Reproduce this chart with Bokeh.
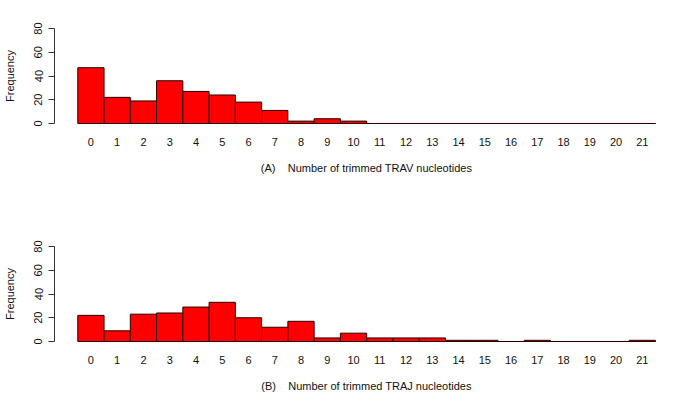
from bokeh.plotting import figure
from bokeh.layouts import column
from bokeh.models import Range1d, FixedTicker, ColumnDataSource
from bokeh.embed import file_html
from bokeh.resources import INLINE

categories = list(range(22))
tick_labels = [str(c) for c in categories]
trav_counts = [47, 22, 19, 36, 27, 24, 18, 11, 2, 4, 2, 0, 0, 0, 0, 0, 0, 0, 0, 0, 0, 0]
traj_counts = [22, 9, 23, 24, 29, 33, 20, 12, 17, 3, 7, 3, 3, 3, 1, 1, 0, 1, 0, 0, 0, 1]
y_ticks = [0, 20, 40, 60, 80]
NB = "\u00a0"
titles = ["(A)" + NB * 3 + " Number of trimmed TRAV nucleotides",
          "(B)" + NB * 3 + " Number of trimmed TRAJ nucleotides"]

FONT = "Liberation Sans"


def panel(counts, title, height, top, bottom):
    p = figure(width=685, height=height, output_backend="svg", toolbar_location=None,
               min_border_left=54, min_border_right=7, min_border_top=top,
               min_border_bottom=bottom,
               x_range=Range1d(-1.387, 22.376), y_range=Range1d(-3.37, 83.37))
    p.grid.visible = False
    p.outline_line_color = None
    p.background_fill_color = "white"
    p.border_fill_color = "white"

    lo = min(categories) - 0.5
    hi = max(categories) + 0.5
    p.segment(x0=[lo], y0=[0], x1=[hi], y1=[0], line_color="#8a8a8a", line_width=1)

    src = ColumnDataSource(dict(x=categories, top=counts))
    p.vbar(x="x", top="top", bottom=0, width=1, source=src,
           fill_color="#ff0000", line_color="#2a0000", line_width=1)

    xa = p.xaxis[0]
    xa.ticker = FixedTicker(ticks=categories)
    xa.major_label_overrides = {c: l for c, l in zip(categories, tick_labels)}
    xa.axis_line_color = None
    xa.major_tick_line_color = None
    xa.minor_tick_line_color = None
    xa.major_tick_out = 0
    xa.major_tick_in = 0
    xa.major_label_standoff = 10
    xa.major_label_text_font = FONT
    xa.major_label_text_font_size = "11px"
    xa.major_label_text_color = "#111111"
    xa.axis_label = title
    xa.axis_label_standoff = 13
    xa.axis_label_text_font = FONT
    xa.axis_label_text_font_size = "11px"
    xa.axis_label_text_font_style = "normal"
    xa.axis_label_text_color = "#111111"

    ya = p.yaxis[0]
    ya.ticker = FixedTicker(ticks=y_ticks)
    ya.bounds = (min(y_ticks), max(y_ticks))
    ya.axis_line_color = "#333333"
    ya.major_tick_line_color = "#333333"
    ya.minor_tick_line_color = None
    ya.major_tick_out = 6
    ya.major_tick_in = 0
    ya.major_label_orientation = "vertical"
    ya.major_label_standoff = 6
    ya.major_label_text_font = FONT
    ya.major_label_text_font_size = "11px"
    ya.major_label_text_color = "#111111"
    ya.axis_label = "Frequency"
    ya.axis_label_standoff = 16
    ya.axis_label_text_font = FONT
    ya.axis_label_text_font_size = "11px"
    ya.axis_label_text_font_style = "normal"
    ya.axis_label_text_color = "#111111"
    return p


p1 = panel(trav_counts, titles[0], 200, 24, 73)
p2 = panel(traj_counts, titles[1], 207, 42, 62)

layout = column(p1, p2, spacing=0)

open("out.html", "w").write(file_html(layout, INLINE))
